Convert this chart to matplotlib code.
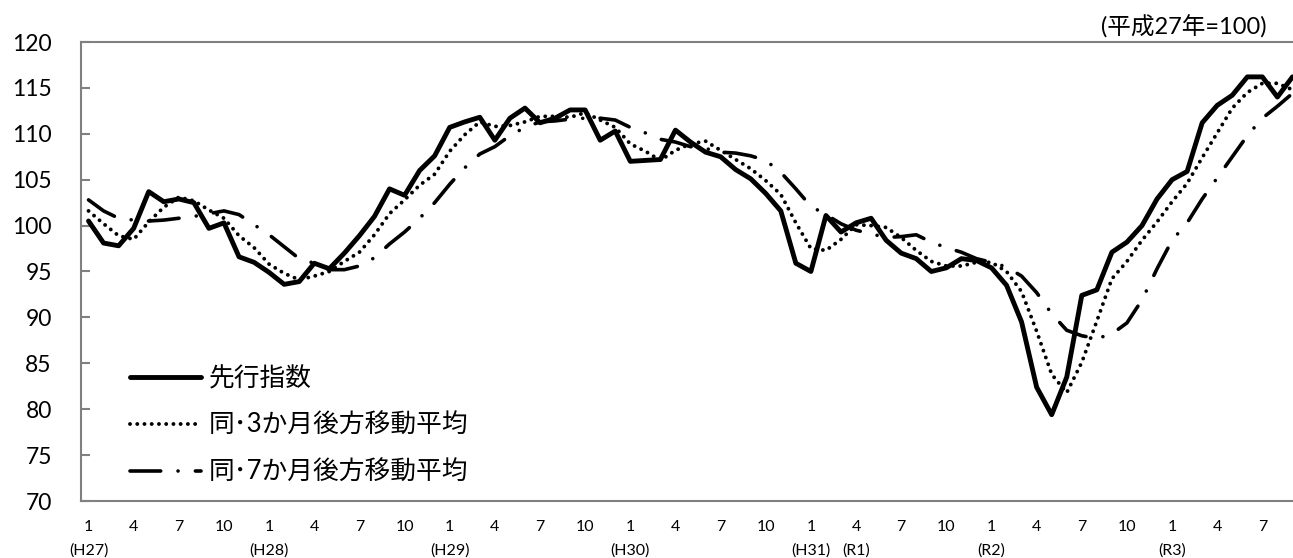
import matplotlib
matplotlib.use("Agg")
import matplotlib.pyplot as plt
import numpy as np

# ---- data (Jan 2015 .. Sep 2021, monthly) ----
leading = [100.5, 98.1, 97.8, 99.7, 103.7, 102.6, 102.9, 102.5, 99.7, 100.3, 96.6, 96.0,
           94.9, 93.6, 93.9, 95.9, 95.3, 97.0, 98.9, 101.0, 104.0, 103.3, 106.0, 107.6,
           110.7, 111.3, 111.8, 109.3, 111.7, 112.8, 111.2, 111.7, 112.6, 112.6, 109.3, 110.3,
           107.0, 107.1, 107.2, 110.4, 109.1, 108.0, 107.5, 106.1, 105.1, 103.5, 101.6, 95.9,
           95.0, 101.1, 99.3, 100.3, 100.8, 98.4, 97.0, 96.4, 95.0, 95.4, 96.4, 96.2,
           95.4, 93.5, 89.5, 82.4, 79.4, 83.5, 92.4, 93.0, 97.1, 98.2, 100.0, 102.9,
           105.0, 105.9, 111.2, 113.1, 114.2, 116.2, 116.2, 114.0, 116.2]
ma3 = [101.6, 100.2, 98.9, 98.5, 100.4, 102.0, 103.1, 102.7, 101.7, 100.8, 98.9, 97.6,
       95.8, 94.8, 94.1, 94.5, 95.0, 96.1, 97.1, 99.0, 101.3, 102.8, 104.4, 105.6,
       108.1, 109.9, 111.3, 110.8, 110.9, 111.3, 111.9, 111.9, 111.8, 112.3, 111.5, 110.7,
       108.9, 108.1, 107.1, 108.2, 108.9, 109.2, 108.2, 107.2, 106.2, 104.9, 103.4, 100.3,
       97.5, 97.3, 98.5, 100.1, 100.0, 99.8, 98.7, 97.3, 96.1, 95.6, 95.6, 96.0,
       96.0, 95.0, 92.8, 88.5, 83.8, 81.8, 85.1, 89.6, 94.2, 96.1, 98.4, 100.4,
       102.6, 104.6, 107.4, 110.1, 112.8, 114.5, 115.5, 115.5, 114.8]
ma7 = [102.8, 101.6, 100.8, 100.6, 100.5, 100.6, 100.8, 101.0, 101.3, 101.6, 101.2, 100.1,
       99.0, 97.7, 96.4, 95.9, 95.2, 95.2, 95.6, 96.5, 98.0, 99.3, 100.8, 102.5,
       104.5, 106.3, 107.8, 108.6, 109.8, 110.7, 111.3, 111.4, 111.6, 111.7, 111.7, 111.5,
       110.7, 110.1, 109.4, 109.1, 108.6, 108.4, 108.0, 107.9, 107.6, 107.1, 105.8, 104.0,
       102.1, 101.2, 100.2, 99.5, 99.1, 98.7, 98.8, 99.0, 98.2, 97.6, 97.1, 96.4,
       96.0, 95.5, 94.5, 92.7, 90.4, 88.6, 88.0, 87.7, 88.2, 89.4, 91.9, 95.3,
       98.4, 100.3, 102.9, 105.2, 107.5, 109.8, 111.7, 113.0, 114.4]

tick_months = ["1", "4", "7", "10"] * 6 + ["1", "4", "7"]
era_labels = {0: "(H27)", 12: "(H28)", 24: "(H29)", 36: "(H30)",
              48: "(H31)", 51: "(R1)", 60: "(R2)", 72: "(R3)"}
series_names = ["先行指数", "同･3か月後方移動平均", "同･7か月後方移動平均"]
unit_text = "(平成27年=100)"
y_ticks = [70, 75, 80, 85, 90, 95, 100, 105, 110, 115, 120]

plt.rcParams['font.family'] = ['Lato', 'Noto Sans CJK JP']

W, H = 1293, 558
fig = plt.figure(figsize=(W / 100, H / 100), dpi=100)
ax = fig.add_axes([81 / W, 1 - 501 / H, (1300 - 81) / W, (501 - 42) / H])

x = np.arange(len(leading))
ax.plot(x, leading, color='black', lw=3.5, solid_capstyle='round',
        solid_joinstyle='round', label=series_names[0], zorder=3)
ax.plot(x, ma3, color='black', lw=2.8, linestyle=(0, (0.01, 1.85)),
        dash_capstyle='round', label=series_names[1], zorder=2)
ax.plot(x, ma7, color='black', lw=2.6, linestyle=(0, (8.5, 4.8, 0.01, 4.8)),
        dash_capstyle='round', label=series_names[2], zorder=2)

ax.set_xlim(-0.5, len(leading) - 0.5)
ax.set_ylim(70, 120)
ax.set_yticks(y_ticks)
tick_pos = list(range(0, len(leading), 3))
labels = []
for p, m in zip(tick_pos, tick_months):
    lab = m
    if p in era_labels:
        lab = m + "\n" + era_labels[p]
    labels.append(lab)
ax.set_xticks(tick_pos)
ax.set_xticklabels(labels)
for t in ax.get_xticklabels():
    t.set_linespacing(1.75)

ax.tick_params(axis='x', length=0, pad=14, labelsize=11.5)
ax.tick_params(axis='y', direction='in', length=6.5, width=1.5,
               color='#808080', labelsize=16.5, pad=21)
for s in ['left', 'top', 'bottom', 'right']:
    ax.spines[s].set_color('#808080')
    ax.spines[s].set_linewidth(1.5)

ax.legend(loc='upper left', bbox_to_anchor=(130 / W, 1 - 366 / H),
          bbox_transform=fig.transFigure, frameon=False, fontsize=18.5,
          handlelength=2.75, handletextpad=0.31, labelspacing=0.85,
          borderpad=0, borderaxespad=0)

fig.text(1267 / W, 1 - 27 / H, unit_text, ha='right', va='center', fontsize=17)

fig.savefig("out.png", dpi=100)
